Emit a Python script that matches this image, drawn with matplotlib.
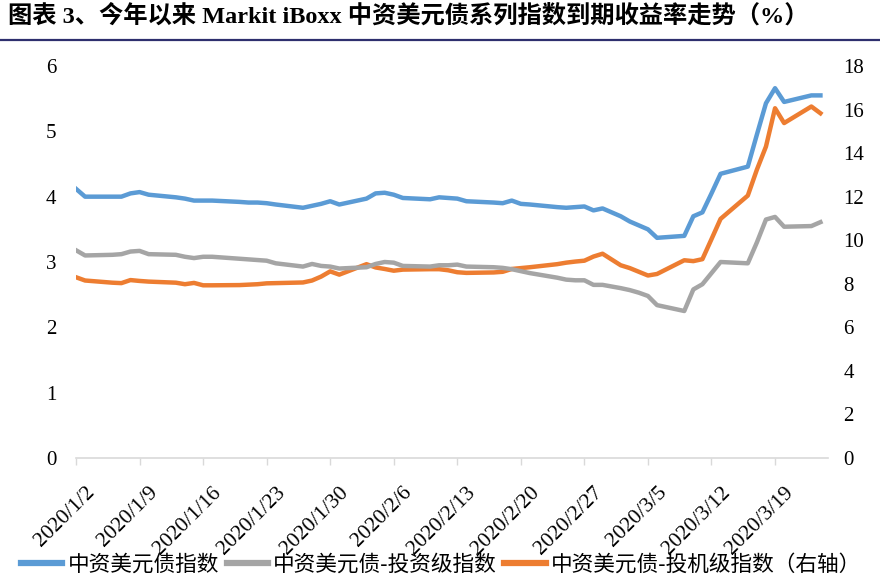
import matplotlib
matplotlib.use('Agg')
import matplotlib.pyplot as plt
import matplotlib.transforms as mtransforms
from matplotlib.lines import Line2D
import pandas as pd

plt.rcParams['font.family'] = ['Liberation Serif', 'Noto Sans CJK SC']

# 数据
dates = ['2020/1/2', '2020/1/3', '2020/1/6', '2020/1/7', '2020/1/8', '2020/1/9', '2020/1/10',
         '2020/1/13', '2020/1/14', '2020/1/15', '2020/1/16', '2020/1/17',
         '2020/1/20', '2020/1/21', '2020/1/22', '2020/1/23', '2020/1/24',
         '2020/1/27', '2020/1/28', '2020/1/29', '2020/1/30', '2020/1/31',
         '2020/2/3', '2020/2/4', '2020/2/5', '2020/2/6', '2020/2/7',
         '2020/2/10', '2020/2/11', '2020/2/12', '2020/2/13', '2020/2/14',
         '2020/2/17', '2020/2/18', '2020/2/19', '2020/2/20', '2020/2/21',
         '2020/2/24', '2020/2/25', '2020/2/26', '2020/2/27', '2020/2/28', '2020/2/29',
         '2020/3/2', '2020/3/3', '2020/3/4', '2020/3/5', '2020/3/6',
         '2020/3/9', '2020/3/10', '2020/3/11', '2020/3/12', '2020/3/13',
         '2020/3/16', '2020/3/17', '2020/3/18', '2020/3/19', '2020/3/20',
         '2020/3/23', '2020/3/24']

idx_all = [4.12, 4.00, 4.00, 4.00, 4.05, 4.07, 4.03,
           3.99, 3.97, 3.94, 3.94, 3.94,
           3.92, 3.91, 3.91, 3.90, 3.88,
           3.83, 3.86, 3.89, 3.93, 3.88,
           3.97, 4.05, 4.06, 4.03, 3.98,
           3.96, 3.99, 3.98, 3.97, 3.93,
           3.91, 3.90, 3.94, 3.89, 3.88,
           3.84, 3.83, 3.84, 3.85, 3.79, 3.82,
           3.70, 3.62, 3.56, 3.50, 3.37,
           3.40, 3.70, 3.76, 4.05, 4.35,
           4.46, 4.95, 5.43, 5.66, 5.45,
           5.55, 5.55]

idx_ig = [3.18, 3.10, 3.11, 3.12, 3.16, 3.17, 3.12,
          3.11, 3.08, 3.06, 3.08, 3.08,
          3.05, 3.04, 3.03, 3.02, 2.98,
          2.93, 2.97, 2.94, 2.93, 2.90,
          2.92, 2.97, 3.00, 2.99, 2.94,
          2.93, 2.95, 2.95, 2.96, 2.93,
          2.92, 2.91, 2.89, 2.86, 2.83,
          2.76, 2.73, 2.72, 2.72, 2.65, 2.65,
          2.60, 2.57, 2.53, 2.48, 2.34,
          2.25, 2.58, 2.66, 2.83, 3.00,
          2.98, 3.30, 3.65, 3.69, 3.54,
          3.55, 3.61]

idx_hy = [8.30, 8.15, 8.05, 8.03, 8.17, 8.13, 8.10,
          8.05, 7.98, 8.04, 7.93, 7.93,
          7.94, 7.96, 7.98, 8.02, 8.03,
          8.06, 8.15, 8.33, 8.57, 8.42,
          8.90, 8.75, 8.68, 8.60, 8.65,
          8.67, 8.67, 8.62, 8.53, 8.50,
          8.52, 8.55, 8.68, 8.72, 8.76,
          8.90, 8.97, 9.02, 9.06, 9.25, 9.38,
          8.85, 8.72, 8.55, 8.38, 8.45,
          9.08, 9.04, 9.13, 10.05, 10.98,
          12.05, 13.24, 14.30, 16.06, 15.38,
          16.14, 15.83]

tick_labels = ['2020/1/2', '2020/1/9', '2020/1/16', '2020/1/23', '2020/1/30', '2020/2/6',
               '2020/2/13', '2020/2/20', '2020/2/27', '2020/3/5', '2020/3/12', '2020/3/19']

names = ['中资美元债指数', '中资美元债-投资级指数', '中资美元债-投机级指数（右轴）']
colors = ['#5B9BD5', '#A5A5A5', '#ED7D31']

x = pd.to_datetime(dates, format='%Y/%m/%d')
ticks = pd.to_datetime(tick_labels, format='%Y/%m/%d')

fig = plt.figure(figsize=(8.8, 5.83), dpi=100)
ax = fig.add_axes([76 / 880, (583 - 458) / 583, (828 - 76) / 880, (458 - 66) / 583])
ax2 = ax.twinx()

l1, = ax.plot(x, idx_all, color=colors[0], lw=3.2, solid_joinstyle='round')
l2, = ax.plot(x, idx_ig, color=colors[1], lw=3.2, solid_joinstyle='round')
l3, = ax2.plot(x, idx_hy, color=colors[2], lw=3.2, solid_joinstyle='round')
ax.set_zorder(ax2.get_zorder() + 1)
ax.patch.set_visible(False)

ax.set_xlim(pd.Timestamp('2020-01-02'), pd.Timestamp('2020-03-24 20:00'))
ax.set_ylim(0, 6)
ax2.set_ylim(0, 18)
ax.set_yticks(range(0, 7))
ax2.set_yticks(range(0, 19, 2))

# x 轴刻度与斜排标签
ax.set_xticks(ticks)
ax.set_xticklabels([])
ax.tick_params(axis='x', length=5, width=1, color='#D9D9D9')
lab_tr = ax.get_xaxis_transform() + mtransforms.ScaledTranslation(9 / 100, -25 / 100, fig.dpi_scale_trans)
for t, s in zip(ticks, tick_labels):
    ax.text(t, 0, s, transform=lab_tr, rotation=45, ha='right', va='top',
            rotation_mode='anchor', fontsize=15.5)

ax.tick_params(axis='y', length=0, pad=14, labelsize=15)
ax2.tick_params(axis='y', length=0, pad=11, labelsize=15)

for a in (ax, ax2):
    for s in ('top', 'left', 'right'):
        a.spines[s].set_visible(False)
    a.spines['bottom'].set_color('#D9D9D9')
    a.spines['bottom'].set_linewidth(1.2)
ax2.spines['bottom'].set_visible(False)

# 标题与分隔线
fig.text(8 / 880, 1 - 16 / 583, '图表 3、今年以来 Markit iBoxx 中资美元债系列指数到期收益率走势（%）',
         fontsize=17.5, fontweight='bold', va='center', ha='left',
         family=['Liberation Serif', 'Noto Sans CJK SC'])
fig.add_artist(Line2D([0, 1], [1 - 39.5 / 583] * 2, transform=fig.transFigure,
                      color='#2E2F6E', lw=1.6))

leg = fig.legend([l1, l2, l3], names, loc='center left', bbox_to_anchor=(21 / 880, 1 - 565 / 583),
                 ncol=3, frameon=False, handlelength=1.9, handletextpad=0.25,
                 columnspacing=0.35, borderpad=0, borderaxespad=0,
                 prop={'family': ['Noto Sans CJK SC'], 'size': 15.6})
for h in leg.get_lines():
    h.set_linewidth(4.5)

fig.savefig('out.png', dpi=100)
